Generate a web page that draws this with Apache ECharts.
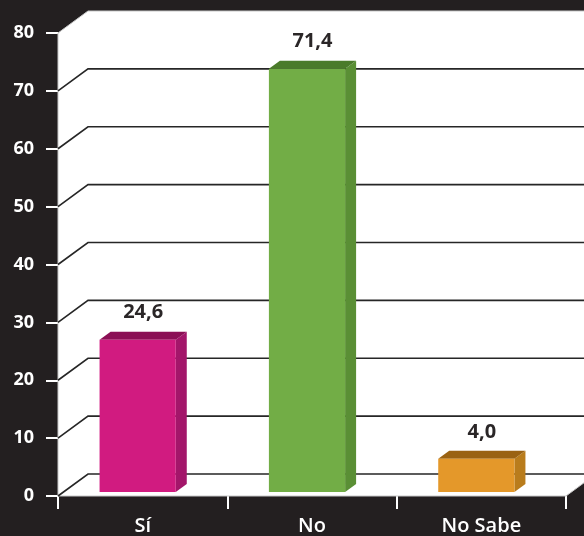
<!DOCTYPE html>
<html><head><meta charset="utf-8">
<script src="https://cdn.jsdelivr.net/npm/echarts@6/dist/echarts.min.js"></script>
<style>html,body{margin:0;padding:0;background:#231f20}#c{width:584px;height:536px}</style>
</head><body><div id="c"></div>
<script>
const categories = ['Sí', 'No', 'No Sabe'];
const values = [24.6, 71.4, 4.0];
const yTicks = [0, 10, 20, 30, 40, 50, 60, 70, 80];

const frontColors = ['#d11b80', '#72ad46', '#e4982a'];
const topColors = ['#8b0f55', '#4a7b2a', '#9a6212'];
const sideColors = ['#a3166a', '#5a8f35', '#b97c1c'];
const DX = 30, DY = -22;      // wall depth offset
const BDX = 11, BDY = -8;     // bar depth

const chart = echarts.init(document.getElementById('c'));
chart.setOption({
  backgroundColor: '#231f20',
  animation: false,
  grid: { left: 58, right: 18, top: 33, bottom: 39 },
  xAxis: {
    type: 'category', data: categories,
    axisLine: { show: false },
    axisTick: { show: true, length: 13, lineStyle: { color: '#ffffff', width: 2 } },
    axisLabel: { color: '#ffffff', fontSize: 20, fontFamily: 'Open Sans', fontWeight: 600, margin: 20 }
  },
  yAxis: {
    type: 'value', min: 0, max: 80, interval: 10,
    axisLine: { show: false },
    axisTick: { show: true, length: 12, lineStyle: { color: '#ffffff', width: 2 } },
    axisLabel: { color: '#ffffff', fontSize: 18, fontFamily: 'Open Sans', fontWeight: 700, margin: 24 },
    splitLine: { show: false }
  },
  series: [
    {
      type: 'custom', z: 1, silent: true, clip: false,
      data: [[0, 0]],
      renderItem: function (params, api) {
        const cs = params.coordSys;
        const L = cs.x, R = cs.x + cs.width, T = cs.y, B = cs.y + cs.height;
        return {
          type: 'polygon',
          shape: { points: [[L, B], [L, T], [L + DX, T + DY], [R + DX, T + DY], [R + DX, B + DY], [R, B]] },
          style: { fill: '#ffffff', stroke: '#c8c8c8', lineWidth: 1 }
        };
      }
    },
    {
      type: 'custom', z: 2, silent: true, clip: false,
      data: yTicks.slice(0, -1).map(v => [0, v]),
      renderItem: function (params, api) {
        const cs = params.coordSys;
        const L = cs.x, R = cs.x + cs.width;
        const y = api.coord([0, api.value(1)])[1];
        return {
          type: 'polyline',
          shape: { points: [[L, y], [L + DX, y + DY], [R + DX, y + DY]] },
          style: { stroke: '#262626', lineWidth: 1.6, fill: null }
        };
      }
    },
    {
      type: 'custom', z: 3, silent: true, clip: false,
      data: values.map((v, i) => [i, v]),
      renderItem: function (params, api) {
        const i = api.value(0), v = api.value(1);
        const bw = api.size([1, 0])[0];
        const cx = api.coord([i, v])[0] - 5;
        const w = bw * 0.45;
        const topBack = api.coord([i, v])[1] + DY;
        const yTop = topBack - BDY;
        const yBot = api.coord([i, 0])[1] - 4;
        const x0 = cx - w / 2, x1 = cx + w / 2;
        const label = v.toFixed(1).replace('.', ',');
        return {
          type: 'group',
          children: [
            { type: 'polygon', shape: { points: [[x1, yTop], [x1 + BDX, yTop + BDY], [x1 + BDX, yBot + BDY], [x1, yBot]] },
              style: { fill: sideColors[i] } },
            { type: 'polygon', shape: { points: [[x0, yTop], [x0 + BDX, yTop + BDY], [x1 + BDX, yTop + BDY], [x1, yTop]] },
              style: { fill: topColors[i] } },
            { type: 'rect', shape: { x: x0, y: yTop, width: w, height: yBot - yTop },
              style: { fill: frontColors[i] } },
            { type: 'text', style: { text: label, x: cx + BDX / 2, y: topBack - 19,
                textAlign: 'center', textVerticalAlign: 'middle', align: 'center', verticalAlign: 'middle',
                font: 'bold 20px "Open Sans"', fill: '#2a2627' } }
          ]
        };
      }
    }
  ]
});
</script>
</body></html>
